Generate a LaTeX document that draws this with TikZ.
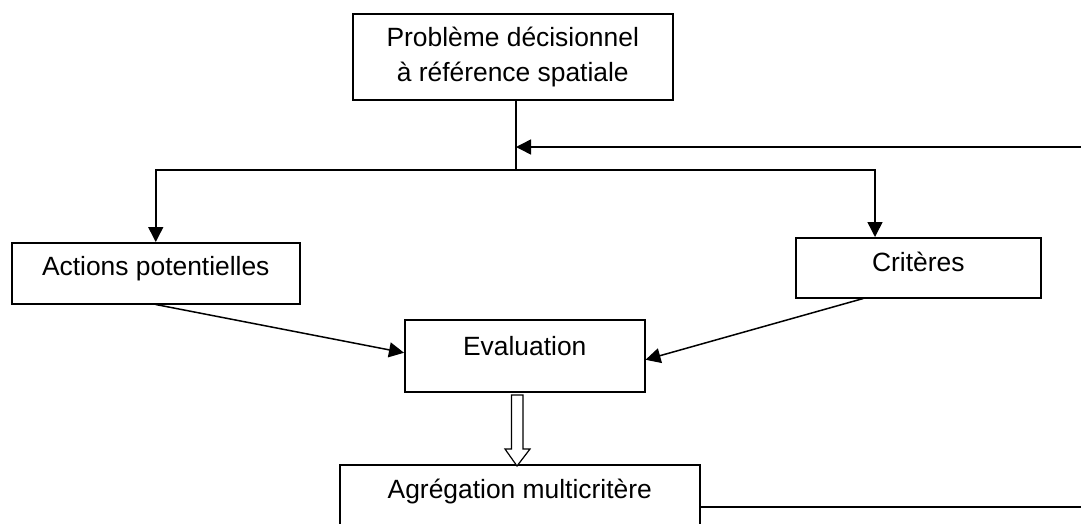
\documentclass[tikz,border=0pt]{standalone}
\usepackage{fontspec}
\setmainfont{Liberation Sans}
\usetikzlibrary{arrows.meta}

\begin{document}
\begin{tikzpicture}[x=1pt, y=-1pt,
    box/.style={draw, line width=1.5pt, inner xsep=0pt, inner ysep=0pt, anchor=north west, font=\fontsize{26.4}{35}\selectfont},
    link/.style={line width=1.5pt, -{Triangle[length=15pt,width=15pt]}}]

    \useasboundingbox (0,0) rectangle (1081,523);
    \clip (0,0) rectangle (1081,523);

    % Draw the boxes
    \node[box, minimum width=320pt, minimum height=86pt, align=center] (prob) at (352,13) {Problème décisionnel\\à référence spatiale};
    \node[box, minimum width=288pt, text height=33pt, text depth=28pt] (act) at (11,242) {Actions potentielles};
    \node[box, minimum width=245pt, text height=34pt, text depth=26pt] (crit) at (795,237) {Critères};
    \node[box, minimum width=240pt, text height=36pt, text depth=36pt] (eval) at (404,319) {Evaluation};
    \node[box, minimum width=360pt, text height=34pt, text depth=40pt] (agg) at (339,464) {Agrégation multicritère};

    % Points of the links
    \coordinate (split) at (516,170);
    \coordinate (cdrop) at (875,170);
    \coordinate (fbin) at (1081,147);
    \coordinate (fbout) at (1081,507);
    \coordinate (hol) at (517,395);

    % Draw the links
    \draw[line width=1.5pt] (split |- prob.south) -- (split);
    \draw[link] (split) -| (act.north);
    \draw[link] (split) -- (cdrop) -- (cdrop |- crit.north);
    \draw[link] (fbin) -- (fbin -| split);
    \draw[link] (act.south) -- ([yshift=3pt]eval.west);
    \draw[link] ([xshift=-55pt]crit.south) -- ([yshift=-4pt]eval.east);

    % Hollow arrow down to the aggregation
    \draw[line width=1.2pt, fill=white] (hol) ++(-5.5,0) -- ++(0,54) -- ++(-6.5,0) -- ++(12,17) -- ++(13,-17) -- ++(-7,0) -- ++(0,-54) -- cycle;

    \draw[line width=1.5pt] (agg.east |- fbout) -- (fbout);

\end{tikzpicture}
\end{document}
